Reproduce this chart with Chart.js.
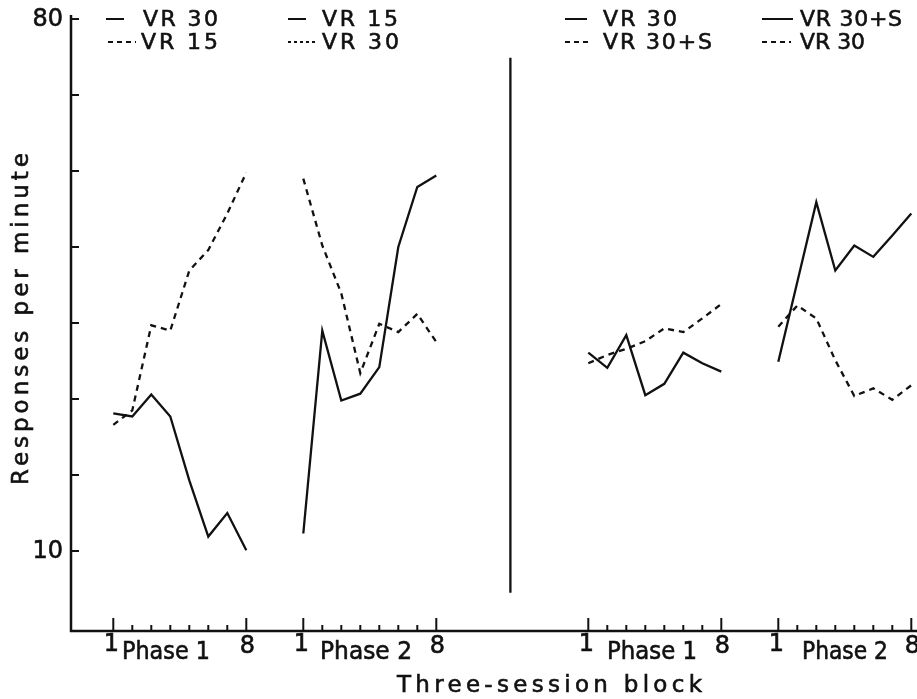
<!DOCTYPE html>
<html>
<head>
<meta charset="utf-8">
<script src="https://cdn.jsdelivr.net/npm/chart.js@4.4.1/dist/chart.umd.min.js"></script>
<style>
  html, body { margin: 0; padding: 0; background: #fff; }
  #wrap { width: 917px; height: 699px; }
</style>
</head>
<body>
<div id="wrap"><canvas id="chart" width="917" height="699"></canvas></div>
<script>
// block numbers within a phase (1..8)
const blocks = [1, 2, 3, 4, 5, 6, 7, 8];

// left experiment (responses per minute)
const leftP1Solid = [28.1, 27.7, 30.6, 27.7, 19.3, 11.9, 15.0, 10.1];   // VR 30
const leftP1Dash  = [26.6, 28.5, 39.7, 39.0, 46.9, 49.6, 54.4, 59.8];   // VR 15
const leftP2Solid = [12.3, 39.0, 29.8, 30.7, 34.2, 50.0, 57.9, 59.4];   // VR 15
const leftP2Dash  = [59.0, 50.2, 43.9, 33.4, 39.9, 38.8, 41.2, 37.5];   // VR 30

// right experiment
const rightP1Solid = [36.1, 34.1, 38.4, 30.5, 32.0, 36.1, 34.7, 33.6];  // VR 30
const rightP1Dash  = [34.7, 35.8, 36.6, 37.6, 39.3, 38.8, 40.6, 42.5];  // VR 30+S
const rightP2Solid = [34.9, 45.4, 55.9, 46.9, 50.2, 48.7, 51.5, 54.4];  // VR 30+S
const rightP2Dash  = [39.5, 42.3, 40.6, 35.1, 30.4, 31.4, 29.9, 31.8];  // VR 30

// vertical divider between the two experiments
const dividerY = [74.9, 4.5];

const yTicks = [10, 20, 30, 40, 50, 60, 70, 80];
const yTickLabels = { 10: '10', 80: '80' };
const phaseNames = ['Phase 1', 'Phase 2', 'Phase 1', 'Phase 2'];
const endLabels = ['1', '8'];
const legendLeft = [['VR 30', 'VR 15'], ['VR 15', 'VR 30']];
const legendRight = [['VR 30', 'VR 30+S'], ['VR 30+S', 'VR 30']];
const xTitle = 'Three-session block';
const yTitle = 'Responses per minute';

// where each phase starts on the x scale
const phaseOffset = [0, 10, 25, 35];
const dividerX = 21.9;

const INK = '#111';
const DASH = [6, 5];

function pts(offset, vals) {
  return blocks.map((b, i) => ({ x: b + offset, y: vals[i] }));
}

function line(data, dashed) {
  return {
    data, borderColor: INK, borderWidth: 2.3, borderDash: dashed ? DASH : [],
    pointRadius: 0, tension: 0, fill: false
  };
}

const datasets = [
  line(pts(phaseOffset[0], leftP1Solid), false),
  line(pts(phaseOffset[0], leftP1Dash), true),
  line(pts(phaseOffset[1], leftP2Solid), false),
  line(pts(phaseOffset[1], leftP2Dash), true),
  line(pts(phaseOffset[2], rightP1Solid), false),
  line(pts(phaseOffset[2], rightP1Dash), true),
  line(pts(phaseOffset[3], rightP2Solid), false),
  line(pts(phaseOffset[3], rightP2Dash), true),
  line(dividerY.map(v => ({ x: dividerX, y: v })), false)
];

const FONT = '"DejaVu Sans", sans-serif';

// heavier text, like the scanned original
function ink(ctx, text, x, y) {
  ctx.fillText(text, x, y);
  ctx.lineWidth = 0.6;
  ctx.strokeText(text, x, y);
}

// draw text fitted to a width: letter spacing if short, squeeze if long
function spaced(ctx, text, x, y, w) {
  ctx.save();
  ctx.letterSpacing = '0px';
  ctx.textAlign = 'left';
  const m = ctx.measureText(text).width;
  if (m >= w) {
    ctx.translate(x, y);
    ctx.scale(w / m, 1);
    ink(ctx, text, 0, 0);
  } else {
    const ls = text.length > 1 ? (w - m) / (text.length - 1) : 0;
    ctx.letterSpacing = ls + 'px';
    ink(ctx, text, x, y);
  }
  ctx.restore();
}

function sample(ctx, x0, x1, y, dash) {
  ctx.save();
  ctx.lineWidth = 2;
  ctx.strokeStyle = INK;
  ctx.setLineDash(dash);
  ctx.beginPath();
  ctx.moveTo(x0, y);
  ctx.lineTo(x1, y);
  ctx.stroke();
  ctx.restore();
}

const decor = {
  id: 'decor',
  afterDraw(chart) {
    const ctx = chart.ctx;
    const xs = chart.scales.x, ys = chart.scales.y;
    const a = chart.chartArea;
    ctx.save();
    ctx.strokeStyle = INK;
    ctx.fillStyle = INK;

    // axes
    ctx.lineWidth = 2.5;
    ctx.beginPath();
    ctx.moveTo(a.left, a.top);
    ctx.lineTo(a.left, a.bottom);
    ctx.lineTo(a.right, a.bottom);
    ctx.stroke();

    // y ticks
    ctx.font = '24px ' + FONT;
    ctx.textBaseline = 'middle';
    ctx.textAlign = 'right';
    yTicks.forEach(v => {
      const y = ys.getPixelForValue(v);
      ctx.lineWidth = 2;
      ctx.beginPath();
      ctx.moveTo(a.left, y);
      ctx.lineTo(a.left + 8, y);
      ctx.stroke();
      if (yTickLabels[v]) ink(ctx, yTickLabels[v], a.left - 8, y + 1);
    });

    // x ticks: tall at ends, short inside
    phaseOffset.forEach(off => {
      blocks.forEach((b, i) => {
        const x = xs.getPixelForValue(b + off);
        const len = (i === 0 || i === blocks.length - 1) ? 13 : 6;
        ctx.lineWidth = 2;
        ctx.beginPath();
        ctx.moveTo(x, a.bottom);
        ctx.lineTo(x, a.bottom - len);
        ctx.stroke();
      });
    });

    // x tick labels
    ctx.font = '24px ' + FONT;
    ctx.textAlign = 'center';
    phaseOffset.forEach(off => {
      const x1 = xs.getPixelForValue(blocks[0] + off);
      const x8 = xs.getPixelForValue(blocks[blocks.length - 1] + off);
      ink(ctx, endLabels[0], x1 - 2, a.bottom + 14);
      ink(ctx, endLabels[1], x8 + 1, a.bottom + 16);
    });
    const phaseBox = [[122, 88], [320, 92], [607, 90], [802, 86]];
    phaseNames.forEach((t, i) => spaced(ctx, t, phaseBox[i][0], a.bottom + 22, phaseBox[i][1]));

    // axis titles
    ctx.font = '23px ' + FONT;
    spaced(ctx, xTitle, 397, 686, 305);
    ctx.save();
    ctx.translate(22, 318);
    ctx.rotate(-Math.PI / 2);
    spaced(ctx, yTitle, -167, 0, 332);
    ctx.restore();

    // legends: [sample x0, x1, dash, text x, text width]
    ctx.font = '22px ' + FONT;
    const rows = [19, 42];
    const leftLayout = [
      [[106, 124, [], 143, 75], [288, 306, [], 322, 76]],
      [[108, 136, [5, 4], 141, 77], [288, 318, [3, 3], 322, 77]]
    ];
    const rightLayout = [
      [[565, 587, [], 603, 74], [762, 793, [], 800, 102]],
      [[565, 588, [5, 4], 603, 109], [762, 791, [5, 4], 800, 65]]
    ];
    const drawLegend = (items, lay) => {
      items.forEach((row, r) => {
        row.forEach((text, c) => {
          const s = lay[r][c];
          sample(ctx, s[0], s[1], rows[r], s[2]);
          spaced(ctx, text, s[3], rows[r] + 1, s[4]);
        });
      });
    };
    drawLegend(legendLeft, leftLayout);
    drawLegend(legendRight, rightLayout);

    ctx.restore();
  }
};

new Chart(document.getElementById('chart'), {
  type: 'line',
  data: { datasets },
  options: {
    responsive: false,
    animation: false,
    layout: { padding: { left: 71, right: 0, top: 15, bottom: 68 } },
    plugins: { legend: { display: false }, tooltip: { enabled: false } },
    scales: {
      x: { type: 'linear', min: -1.226, max: 43.3, display: false },
      y: { type: 'linear', min: -0.53, max: 80.53, display: false }
    }
  },
  plugins: [decor]
});
</script>
</body>
</html>
